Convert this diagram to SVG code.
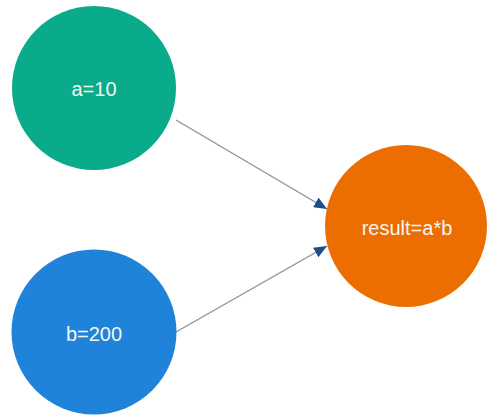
<svg xmlns="http://www.w3.org/2000/svg" width="499" height="418" viewBox="0 0 499 418">
<style>
.lbl{font-family:"Liberation Sans",Arial,sans-serif;font-size:20px;fill:#f4f6f4;text-anchor:middle}
.edge{stroke:#8a9099;stroke-width:1.3;fill:none}
</style>
<defs>
<marker id="arr" markerUnits="userSpaceOnUse" markerWidth="13" markerHeight="11" refX="13" refY="5.5" orient="auto">
<path d="M0,0 L13,5.5 L0,11 z" fill="#1b4f88"/>
</marker>
</defs>
<rect width="499" height="418" fill="#ffffff"/>
<g id="connectors">
<line class="edge" x1="176" y1="120" x2="327" y2="209" marker-end="url(#arr)"/>
<line class="edge" x1="176" y1="332" x2="327" y2="246" marker-end="url(#arr)"/>
</g>
<g id="node-a">
<circle cx="94" cy="88" r="82" fill="#0aab8b"/>
<text class="lbl" x="94" y="95.5">a=10</text>
</g>
<g id="node-b">
<circle cx="94" cy="332" r="82.5" fill="#1f83d9"/>
<text class="lbl" x="94" y="340.5">b=200</text>
</g>
<g id="node-result">
<circle cx="406" cy="226" r="81" fill="#ec6d00"/>
<text class="lbl" x="407" y="235">result=a*b</text>
</g>
</svg>
